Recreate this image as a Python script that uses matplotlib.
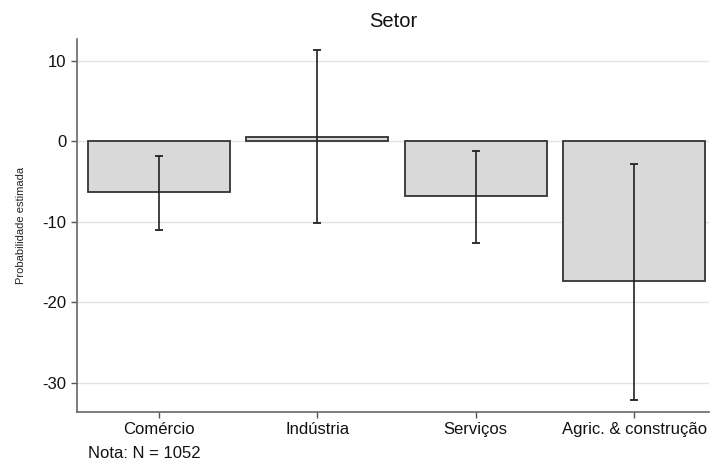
import matplotlib
matplotlib.use("Agg")
import matplotlib.pyplot as plt
import numpy as np

categories = ["Comércio", "Indústria", "Serviços", "Agric. & construção"]
estimates = [-6.3, 0.5, -6.8, -17.4]
ci_low = [-11.05, -10.15, -12.6, -32.2]
ci_high = [-1.8, 11.3, -1.2, -2.8]
yticks = [10, 0, -10, -20, -30]

plt.rcParams['font.family'] = ['Liberation Sans', 'DejaVu Sans']

fig = plt.figure(figsize=(7.1, 4.65), dpi=100)
ax = fig.add_axes([0.1085, 0.1146, 0.8895, 0.8014])

x = np.arange(len(categories))
est = np.array(estimates)
lo = np.array(ci_low)
hi = np.array(ci_high)

ax.bar(x, est, width=0.895, color="#d9d9d9", edgecolor="#333333", linewidth=1.3, zorder=2)
ax.errorbar(x, est, yerr=[est - lo, hi - est], fmt="none", ecolor="#222222",
            elinewidth=1.2, capsize=3, capthick=1.3, zorder=3)

ax.set_xlim(-0.517, 3.47)
ax.set_ylim(-33.6, 12.7)
ax.set_yticks(yticks)
ax.set_yticklabels([str(t) for t in yticks])
ax.set_xticks(x)
ax.set_xticklabels(categories)
ax.tick_params(axis="both", labelsize=12, colors="#555555", labelcolor="#111111", length=4, width=1)
ax.yaxis.grid(True, color="#e3e3e3", linewidth=1, zorder=0)
ax.set_axisbelow(True)
for s in ["top", "right"]:
    ax.spines[s].set_visible(False)
for s in ["left", "bottom"]:
    ax.spines[s].set_color("#666666")
    ax.spines[s].set_linewidth(1.2)

ax.set_title("Setor", fontsize=14.5, color="#111111", pad=9)
ax.set_ylabel("Probabilidade estimada", fontsize=8, color="#222222", labelpad=12)
fig.text(88 / 710, 1 - 453 / 465, "Nota: N = 1052", fontsize=12, color="#111111",
         ha="left", va="center")

fig.savefig("out.png", dpi=100)
